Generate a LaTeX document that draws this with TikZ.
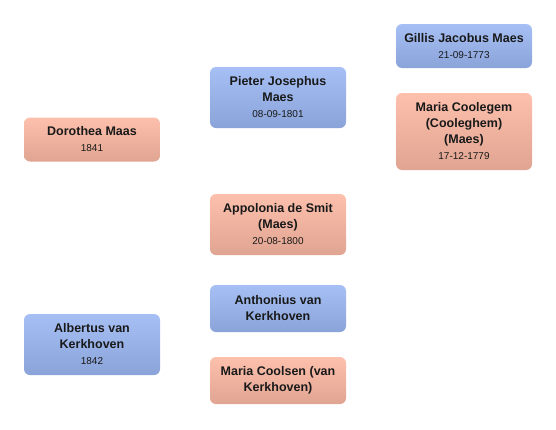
\documentclass[tikz,border=0pt]{standalone}
\usepackage{fontspec}
\setmainfont{Liberation Sans}
\usepackage{tikz}
\definecolor{maletop}{RGB}{166,192,246}
\definecolor{malebot}{RGB}{138,163,216}
\definecolor{femtop}{RGB}{252,192,172}
\definecolor{fembot}{RGB}{224,164,146}
\newcommand{\born}[1]{\\{\fontsize{10}{12.5}\selectfont\mdseries #1}}

\begin{document}
\begin{tikzpicture}[x=1pt, y=-1pt,
        person/.style={rounded corners=6pt, align=center, minimum width=136pt, inner sep=2pt,
                       font=\fontsize{12.5}{16}\selectfont\bfseries, text=black!90},
        male/.style={person, top color=maletop, bottom color=malebot},
        female/.style={person, top color=femtop, bottom color=fembot}
    ]
    \useasboundingbox (0,0) rectangle (556,429);
    % first generation
    \node[female, minimum height=44pt] (dorothea) at (92,139.5)  {Dorothea Maas\born{1841}};
    \node[male, minimum height=61pt]   (albertus) at (92,344.5)  {Albertus van\\Kerkhoven\born{1842}};
    % parents
    \node[male, minimum height=61pt]   (pieter)    at (278,97.5)  {Pieter Josephus\\Maes\born{08-09-1801}};
    \node[female, minimum height=61pt] (appolonia) at (278,224.5) {Appolonia de Smit\\(Maes)\born{20-08-1800}};
    \node[male, minimum height=47pt]   (anthonius) at (278,308.5) {Anthonius van\\Kerkhoven};
    \node[female, minimum height=47pt] (coolsen)   at (278,380.5) {Maria Coolsen (van\\Kerkhoven)};
    % grandparents
    \node[male, minimum height=44pt]   (gillis)    at (464,46)    {Gillis Jacobus Maes\born{21-09-1773}};
    \node[female, minimum height=77pt] (coolegem)  at (464,131.5) {Maria Coolegem\\(Cooleghem)\\(Maes)\born{17-12-1779}};
\end{tikzpicture}
\end{document}
